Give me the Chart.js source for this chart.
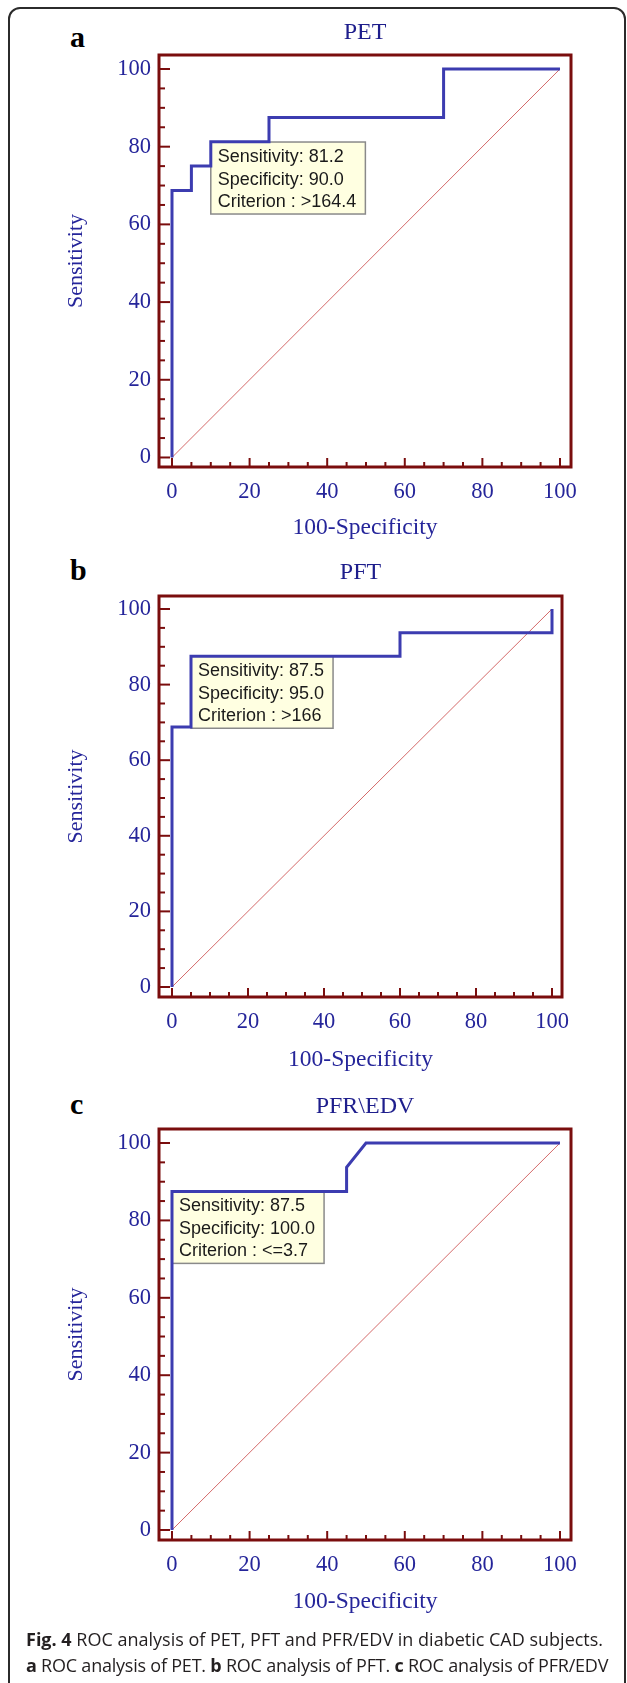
<!DOCTYPE html>
<html>
<head>
<meta charset="utf-8">
<script src="https://cdn.jsdelivr.net/npm/chart.js@4.4.0/dist/chart.umd.min.js"></script>
<style>
  html, body { margin: 0; padding: 0; background: #fff; overflow: hidden; }
  body { width: 627px; height: 1683px; position: relative; }
  .frame { position: absolute; left: 8px; top: 7px; width: 614px; height: 1720px;
           border: 2px solid #2b2b2b; border-radius: 12px; }
  canvas { position: absolute; left: 0; }
  .letter { position: absolute; left: 70px; font: bold 30px 'Liberation Serif', serif;
            line-height: 30px; color: #000; }
  .caption { position: absolute; left: 26px; top: 1626px; font: 18px 'Open Sans', sans-serif;
             line-height: 26px; color: #231f20; white-space: nowrap; }
  .caption b { font-weight: 700; }
  .caption .l2 { letter-spacing: -0.22px; }
</style>
</head>
<body>
<div class="frame"></div>
<div class="letter" style="top:22px">a</div>
<div class="letter" style="top:555px">b</div>
<div class="letter" style="top:1089px">c</div>
<canvas id="rocA" width="627" height="545" style="top:0px"></canvas>
<canvas id="rocB" width="627" height="545" style="top:545px"></canvas>
<canvas id="rocC" width="627" height="545" style="top:1080px"></canvas>
<div class="caption"><b>Fig. 4</b> ROC analysis of PET, PFT and PFR/EDV in diabetic CAD subjects.<br><span class="l2"><b>a</b> ROC analysis of PET. <b>b</b> ROC analysis of PFT. <b>c</b> ROC analysis of PFR/EDV</span></div>

<script>
// ROC curves (x = 100-Specificity, y = Sensitivity)
const petX = [0, 0, 5, 5, 10, 10, 25, 25, 70, 70, 100];
const petY = [0, 68.75, 68.75, 75, 75, 81.25, 81.25, 87.5, 87.5, 100, 100];
const pftX = [0, 0, 5, 5, 60, 60, 100, 100];
const pftY = [0, 68.75, 68.75, 87.5, 87.5, 93.75, 93.75, 100];
const pfrX = [0, 0, 45, 45, 50, 100];
const pfrY = [0, 87.5, 87.5, 93.75, 100, 100];
const refX = [0, 100];
const refY = [0, 100];

// criterion boxes
const critSens = [81.2, 87.5, 87.5];
const critSpec = [90.0, 95.0, 100.0];
const critText = ['>164.4', '>166', '<=3.7'];

const titles = ['PET', 'PFT', 'PFR\\EDV'];
const tickStep = 5;
const majorStep = 20;

const SERIF = "'Liberation Serif', 'Times New Roman', serif";
const SANS = "'Liberation Sans', Arial, sans-serif";
const TXT = '#25259a';
const MAROON = '#7a0d0d';
const BLUE = '#3c3cb0';

function pts(xs, ys) {
    return xs.map((v, i) => ({ x: v, y: ys[i] }));
}

// frame, inward tick marks and the criterion box
const rocDecor = {
    id: 'rocDecor',
    beforeDatasetsDraw(chart, args, opts) {
        const { ctx, scales: { x, y } } = chart;
        const px = x.getPixelForValue(100 - opts.spec);
        const py = y.getPixelForValue(opts.sens);
        const lines = [
            'Sensitivity: ' + opts.sens.toFixed(1),
            'Specificity: ' + opts.spec.toFixed(1),
            'Criterion : ' + opts.crit
        ];
        ctx.save();
        ctx.font = '18px ' + SANS;
        const w = Math.max(...lines.map(l => ctx.measureText(l).width)) + 16;
        ctx.fillStyle = '#ffffe1';
        ctx.fillRect(px, py, w, 72);
        ctx.strokeStyle = '#8a8a8a';
        ctx.lineWidth = 1.5;
        ctx.strokeRect(px, py, w, 72);
        ctx.fillStyle = '#1a1a1a';
        ctx.textBaseline = 'alphabetic';
        lines.forEach((l, i) => ctx.fillText(l, px + 7, py + 20 + i * 22.5));
        ctx.restore();
    },
    afterDraw(chart) {
        const { ctx, chartArea: a, scales: { x, y } } = chart;
        ctx.save();
        ctx.strokeStyle = MAROON;
        ctx.lineWidth = 2;
        y.ticks.forEach(t => {
            const p = y.getPixelForValue(t.value);
            const len = t.value % majorStep === 0 ? 11 : 6;
            ctx.beginPath();
            ctx.moveTo(a.left, p);
            ctx.lineTo(a.left + len, p);
            ctx.stroke();
        });
        x.ticks.forEach(t => {
            const p = x.getPixelForValue(t.value);
            const len = t.value % majorStep === 0 ? 9 : 5;
            ctx.beginPath();
            ctx.moveTo(p, a.bottom);
            ctx.lineTo(p, a.bottom - len);
            ctx.stroke();
        });
        ctx.lineWidth = 3;
        ctx.strokeRect(a.left, a.top, a.right - a.left, a.bottom - a.top);
        ctx.restore();
    }
};

function makeRoc(id, idx, xs, ys, lay) {
    new Chart(document.getElementById(id), {
        type: 'line',
        data: {
            datasets: [{
                data: pts(xs, ys),
                borderColor: BLUE,
                borderWidth: 3,
                pointRadius: 0,
                tension: 0,
                fill: false
            }, {
                data: pts(refX, refY),
                borderColor: 'rgba(205, 80, 80, 0.85)',
                borderWidth: 1,
                pointRadius: 0,
                fill: false
            }]
        },
        options: {
            responsive: false,
            animation: false,
            layout: { padding: { left: 0, right: lay.right, top: 0, bottom: 0 } },
            plugins: {
                legend: { display: false },
                tooltip: { enabled: false },
                title: {
                    display: true,
                    text: titles[idx],
                    fullSize: false,
                    color: '#1e1e8c',
                    font: { family: SERIF, size: 24, weight: 'normal' },
                    padding: { top: lay.titleTop, bottom: lay.titleBottom }
                },
                rocDecor: { sens: critSens[idx], spec: critSpec[idx], crit: critText[idx] }
            },
            scales: {
                x: {
                    type: 'linear',
                    min: lay.xMin,
                    max: lay.xMax,
                    grid: { display: false, drawTicks: false },
                    border: { display: false },
                    ticks: {
                        stepSize: tickStep,
                        includeBounds: false,
                        autoSkip: false,
                        maxRotation: 0,
                        padding: 12,
                        color: TXT,
                        font: { family: SERIF, size: 22.5 },
                        callback: v => (v % majorStep === 0 ? v : '')
                    },
                    title: {
                        display: true,
                        text: '100-Specificity',
                        color: TXT,
                        font: { family: SERIF, size: 23.5 },
                        padding: { top: 0, bottom: lay.xTitleBottom }
                    },
                    afterFit: s => { s.height = lay.xAxisH; }
                },
                y: {
                    type: 'linear',
                    min: lay.yMin,
                    max: lay.yMax,
                    grid: { display: false, drawTicks: false },
                    border: { display: false },
                    ticks: {
                        stepSize: tickStep,
                        includeBounds: false,
                        autoSkip: false,
                        padding: 8,
                        color: TXT,
                        font: { family: SERIF, size: 22.5 },
                        callback: v => (v % majorStep === 0 ? v : '')
                    },
                    title: {
                        display: true,
                        text: 'Sensitivity',
                        color: TXT,
                        font: { family: SERIF, size: 22 },
                        padding: { top: 62.8, bottom: 0 }
                    },
                    afterFit: s => { s.width = 159; }
                }
            }
        },
        plugins: [rocDecor]
    });
}

makeRoc('rocA', 0, petX, petY, {
    right: 56, titleTop: 18.6, titleBottom: 7.6, xAxisH: 78, xTitleBottom: 2.9,
    xMin: -3.35, xMax: 102.84, yMin: -2.45, yMax: 103.6
});
makeRoc('rocB', 1, pftX, pftY, {
    right: 65, titleTop: 13.6, titleBottom: 8.6, xAxisH: 93, xTitleBottom: 15.9,
    xMin: -3.42, xMax: 102.63, yMin: -2.65, yMax: 103.44
});
makeRoc('rocC', 2, pfrX, pfrY, {
    right: 56, titleTop: 12.6, titleBottom: 7.6, xAxisH: 85, xTitleBottom: 8.9,
    xMin: -3.35, xMax: 102.84, yMin: -2.58, yMax: 103.62
});
</script>
</body>
</html>
